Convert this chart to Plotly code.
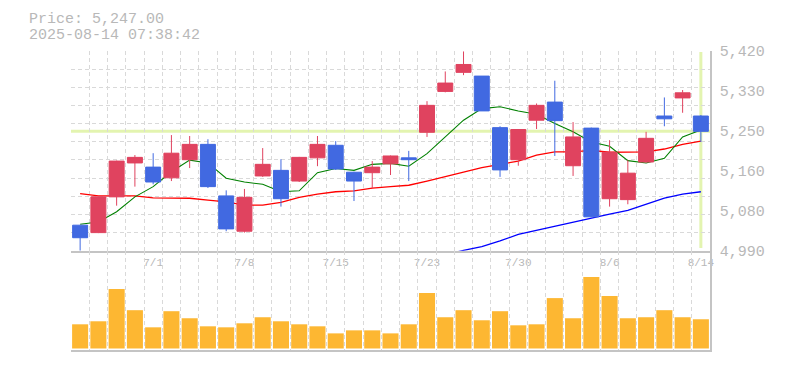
import plotly.graph_objects as go

# ---------------- data ----------------
dates = ["2025-06-25", "2025-06-26", "2025-06-27", "2025-06-30", "2025-07-01", "2025-07-02",
         "2025-07-03", "2025-07-04", "2025-07-07", "2025-07-08", "2025-07-09", "2025-07-10",
         "2025-07-11", "2025-07-14", "2025-07-15", "2025-07-16", "2025-07-17", "2025-07-18",
         "2025-07-22", "2025-07-23", "2025-07-24", "2025-07-25", "2025-07-28", "2025-07-29",
         "2025-07-30", "2025-07-31", "2025-08-01", "2025-08-04", "2025-08-05", "2025-08-06",
         "2025-08-07", "2025-08-08", "2025-08-12", "2025-08-13", "2025-08-14"]

open_ = [5045, 5029, 5106, 5179, 5170, 5147, 5186, 5219, 5108, 5032, 5151, 5163,
         5140, 5190, 5217, 5159, 5158, 5177, 5190, 5245, 5333, 5374, 5366, 5255,
         5186, 5271, 5310, 5173, 5254, 5102, 5100, 5181, 5280, 5319, 5280]
high = [5045, 5107, 5184, 5196, 5200, 5239, 5237, 5230, 5120, 5123, 5211, 5187,
        5192, 5237, 5226, 5160, 5183, 5195, 5205, 5312, 5376, 5419, 5366, 5258,
        5252, 5307, 5356, 5267, 5255, 5228, 5185, 5246, 5320, 5336, 5282]
low = [4990, 5028, 5087, 5128, 5133, 5140, 5168, 5125, 5032, 5029, 5149, 5085,
       5138, 5172, 5164, 5097, 5125, 5153, 5140, 5235, 5331, 5368, 5291, 5149,
       5173, 5252, 5194, 5151, 5062, 5085, 5090, 5180, 5258, 5287, 5224]
close = [5018, 5106, 5183, 5191, 5138, 5200, 5219, 5128, 5037, 5105, 5176, 5102,
         5191, 5219, 5166, 5140, 5170, 5194, 5186, 5303, 5351, 5391, 5291, 5164,
         5251, 5303, 5270, 5235, 5063, 5202, 5157, 5232, 5274, 5330, 5247]

ma5 = [5047, 5052, 5074, 5106, 5128, 5160, 5185, 5179, 5146, 5138, 5133, 5117,
       5119, 5158, 5167, 5163, 5176, 5178, 5172, 5199, 5235, 5271, 5296, 5300,
       5291, 5284, 5264, 5246, 5224, 5215, 5184, 5179, 5189, 5235, 5250]
ma25 = [5113, 5108, 5108, 5108, 5104, 5103, 5103, 5099, 5095, 5088, 5088, 5094,
        5105, 5112, 5117, 5119, 5125, 5128, 5131, 5140, 5149, 5159, 5169, 5176,
        5183, 5196, 5203, 5203, 5206, 5202, 5202, 5203, 5209, 5219, 5226]
ma75 = [None] * 20 + [4981, 4991, 4999, 5011, 5025, 5034, 5043, 5051, 5060, 5069,
                      5077, 5090, 5103, 5112, 5117]

volume = [24, 27, 59, 38, 21, 37, 30, 22, 21, 25, 31, 27, 24, 22, 15, 18, 18, 15,
          24, 55, 31, 38, 28, 37, 23, 24, 50, 30, 71, 52, 30, 31, 38, 31, 29]

x_labels = {"2025-07-01": "7/1", "2025-07-08": "7/8", "2025-07-15": "7/15",
            "2025-07-23": "7/23", "2025-07-30": "7/30", "2025-08-06": "8/6",
            "2025-08-14": "8/14"}

y_label_vals = [4990, 5076, 5162, 5248, 5334, 5420]
y_label_text = ["4,990", "5,080", "5,160", "5,250", "5,330", "5,420"]

timestamp = "2025-08-14 07:38:42"

# ---------------- styling ----------------
RED = "#e0435f"
BLUE = "#4169e1"
ORANGE = "#fdb732"
GRID = "#d9d9d9"
AXIS = "#c4c4c4"
TEXT = "#b8b8b8"
CROSS = "#e3f4b0"
FONT = "Liberation Mono, Courier New, monospace"
Y_MIN, Y_MAX = 4990, 5420
grid_vals = [Y_MIN + k * (Y_MAX - Y_MIN) / 11 for k in range(12)]
SPLIT = 0.332

fig = go.Figure()

# moving averages (main price axis, drawn beneath the candles)
for vals, col, w in [(ma75, "#0000ff", 1.3), (ma25, "#ff0000", 1.3), (ma5, "#008000", 1.1)]:
    fig.add_trace(go.Scatter(x=dates, y=vals, mode="lines", line=dict(color=col, width=w),
                             xaxis="x", yaxis="y", hoverinfo="skip", showlegend=False))

# candles on an overlaying copy of the price axis so they sit above the MA lines
fig.add_trace(go.Candlestick(
    x=dates, open=open_, high=high, low=low, close=close,
    increasing=dict(line=dict(color=RED, width=1), fillcolor=RED),
    decreasing=dict(line=dict(color=BLUE, width=1), fillcolor=BLUE),
    whiskerwidth=0, xaxis="x", yaxis="y4", showlegend=False,
))

fig.add_trace(go.Bar(x=dates, y=volume, marker=dict(color=ORANGE, line=dict(width=0)),
                     xaxis="x2", yaxis="y2", showlegend=False, hoverinfo="skip"))

# crosshair at last price / last date
fig.add_shape(type="line", xref="paper", x0=0, x1=1, yref="y", y0=close[-1], y1=close[-1],
              line=dict(color=CROSS, width=3), layer="below")
fig.add_shape(type="line", xref="x", x0=dates[-1], x1=dates[-1], yref="y",
              y0=Y_MIN + 6, y1=Y_MAX - 2,
              line=dict(color=CROSS, width=3), layer="below")

fig.add_annotation(text=f"Price: {close[-1]:,.2f}", xref="paper", yref="paper",
                   x=-0.069, y=1.105, xanchor="left", yanchor="middle", showarrow=False,
                   font=dict(family=FONT, size=15, color=TEXT))
fig.add_annotation(text=timestamp, xref="paper", yref="paper",
                   x=-0.069, y=1.0515, xanchor="left", yanchor="middle", showarrow=False,
                   font=dict(family=FONT, size=15, color=TEXT))

common_x = dict(type="category", range=[-0.5, len(dates) - 0.5], tickvals=dates,
                tickson="boundaries", showgrid=True, gridcolor=GRID, griddash="4px,3px",
                gridwidth=1, showline=True, linecolor=AXIS, linewidth=1.5, ticks="",
                zeroline=False, fixedrange=True, tickangle=0, automargin=False)

# page body has an 8px margin, so the figure is sized to fit inside the window
fig.update_layout(
    width=769, height=354,
    margin=dict(l=63, r=67, t=43, b=12, autoexpand=False),
    paper_bgcolor="white", plot_bgcolor="white",
    boxgap=0.18, boxgroupgap=0, bargap=0.12,
    showlegend=False,
    font=dict(family=FONT, color=TEXT),
    xaxis=dict(domain=[0, 1], anchor="y",
               ticktext=[x_labels.get(d, "") for d in dates],
               tickfont=dict(family=FONT, size=11, color=TEXT),
               ticklabelstandoff=0,
               rangeslider=dict(visible=False), **common_x),
    yaxis=dict(domain=[SPLIT, 1], anchor="x", side="right", range=[Y_MIN, Y_MAX],
               tickvals=y_label_vals, ticktext=y_label_text, showgrid=False,
               showline=True, linecolor=AXIS, linewidth=1.5, ticks="",
               ticklabelstandoff=5, zeroline=False, fixedrange=True, automargin=False,
               tickfont=dict(family=FONT, size=15, color=TEXT),
               minor=dict(tickvals=grid_vals, showgrid=True, gridcolor=GRID,
                          griddash="4px,3px", gridwidth=1, ticks="")),
    yaxis4=dict(overlaying="y", anchor="x", side="right", range=[Y_MIN, Y_MAX],
                showgrid=False, showticklabels=False, showline=False, ticks="",
                zeroline=False, fixedrange=True, automargin=False),
    xaxis2=dict(domain=[0, 1], anchor="y2", ticktext=["" for _ in dates],
                showticklabels=False, **common_x),
    yaxis2=dict(domain=[0, SPLIT], anchor="x2", side="right", range=[-1.5, 97],
                showgrid=False, showticklabels=False, showline=True, linecolor=AXIS,
                linewidth=1.5, ticks="", zeroline=False, fixedrange=True, automargin=False),
)

fig.write_html("out.html")
